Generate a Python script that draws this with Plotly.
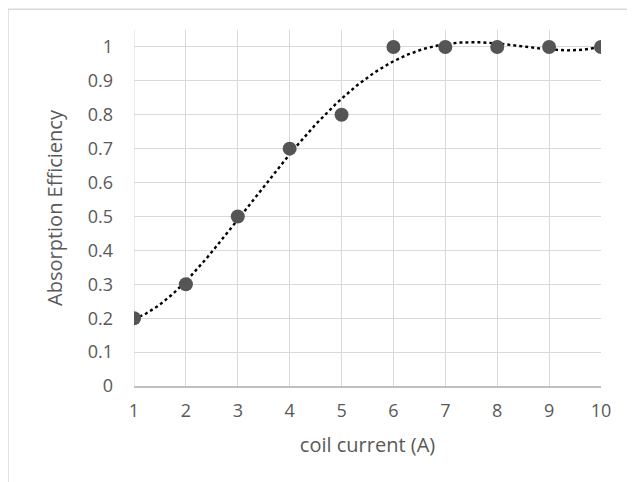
import numpy as np
import plotly.graph_objects as go

coil_current = [1, 2, 3, 4, 5, 6, 7, 8, 9, 10]
efficiency = [0.2, 0.3, 0.5, 0.7, 0.8, 1.0, 1.0, 1.0, 1.0, 1.0]
y_ticks = [0, 0.1, 0.2, 0.3, 0.4, 0.5, 0.6, 0.7, 0.8, 0.9, 1]
y_labels = ["0", "0.1", "0.2", "0.3", "0.4", "0.5", "0.6", "0.7", "0.8", "0.9", "1"]
x_ticks = [1, 2, 3, 4, 5, 6, 7, 8, 9, 10]
trend_order = 5

# polynomial trendline fitted from the data (like Excel's trendline)
coef = np.polyfit(coil_current, efficiency, trend_order)
xt = np.linspace(min(coil_current), max(coil_current), 200)
yt = np.polyval(coef, xt)

txt = "#595959"
font = "Open Sans"

fig = go.Figure()
fig.add_trace(go.Scatter(x=xt, y=yt, mode="lines",
                         line=dict(color="black", width=2.4, dash="dot"),
                         hoverinfo="skip", showlegend=False))
fig.add_trace(go.Scatter(x=coil_current, y=efficiency, mode="markers",
                         marker=dict(color="#555555", size=14),
                         showlegend=False))

fig.update_layout(
    width=635, height=482,
    margin=dict(l=126, r=42, t=22, b=104),
    paper_bgcolor="white", plot_bgcolor="white",
    font=dict(family=font, color=txt, size=18),
    xaxis=dict(range=[1, 10], tickvals=x_ticks, showgrid=True,
               gridcolor="#d9d9d9", gridwidth=1, zeroline=False,
               showline=True, linecolor="#bfbfbf", linewidth=1.5,
               ticks="", ticklabelstandoff=8, tickfont=dict(size=18, color=txt),
               title=dict(text="coil current (A)", standoff=17,
                          font=dict(size=20, color=txt))),
    yaxis=dict(range=[0, 1.05], tickvals=y_ticks, ticktext=y_labels,
               showgrid=True, gridcolor="#d9d9d9", gridwidth=1, zeroline=False,
               showline=False, ticks="", ticklabelstandoff=20,
               tickfont=dict(size=18, color=txt),
               title=dict(text="Absorption Efficiency", standoff=19,
                          font=dict(size=20, color=txt))),
    shapes=[
        dict(type="line", xref="x", yref="paper", x0=1, x1=1, y0=0, y1=1,
             line=dict(color="#d9d9d9", width=1), layer="below"),
        dict(type="rect", xref="paper", yref="paper",
             x0=-0.2698, x1=1.1, y0=-0.35, y1=1.058,
             line=dict(color="#d9d9d9", width=1.5), fillcolor="rgba(0,0,0,0)"),
    ],
)

fig.write_html("out.html")
